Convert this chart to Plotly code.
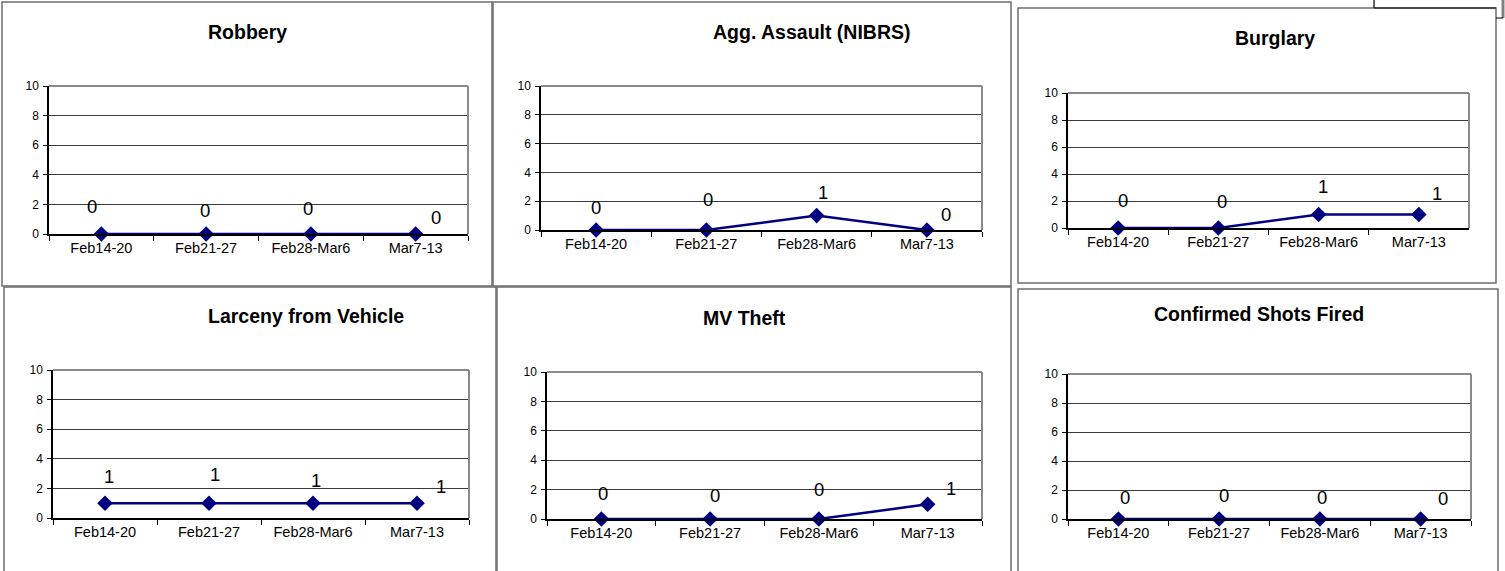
import plotly.graph_objects as go

# ---------------- data ----------------
CATEGORIES = ["Feb14-20", "Feb21-27", "Feb28-Mar6", "Mar7-13"]
TITLES = ["Robbery", "Agg. Assault (NIBRS)", "Burglary",
          "Larceny from Vehicle", "MV Theft", "Confirmed Shots Fired"]
ROBBERY = [0, 0, 0, 0]
AGG_ASSAULT = [0, 0, 1, 0]
BURGLARY = [0, 0, 1, 1]
LARCENY_FROM_VEHICLE = [1, 1, 1, 1]
MV_THEFT = [0, 0, 0, 1]
SHOTS_FIRED = [0, 0, 0, 0]
Y_TICKS = [0, 2, 4, 6, 8, 10]

SERIES = [ROBBERY, AGG_ASSAULT, BURGLARY, LARCENY_FROM_VEHICLE, MV_THEFT, SHOTS_FIRED]

# ---------------- layout (pixels) ----------------
W, H = 1505, 571
# plot area: x0, x1, ytop, ybottom
PLOT_AREAS = [
    (49, 468, 86, 234),
    (541, 982, 86, 230),
    (1068, 1469, 93, 228),
    (53, 469, 370, 518),
    (547, 982, 372, 519),
    (1068, 1471, 374, 519),
]
TITLE_POS = [(247, 32), (812, 32), (1275, 38), (306, 316), (744, 318), (1259, 314)]
BOXES = [
    (2, 2, 492, 286),
    (493, 2, 1011, 286),
    (1018, 8, 1496, 283),
    (4, 287, 496, 580),
    (497, 287, 1011, 580),
    (1018, 289, 1498, 580),
]
# label offsets (dx, dy) per point, per panel
LABEL_OFFSETS = [
    [(-9, 28), (-1, 24), (-3, 26), (20, 17)],
    [(0, 23), (2, 31), (6, 23), (19, 16)],
    [(5, 27), (4, 26), (4, 28), (18, 21)],
    [(4, 27), (6, 29), (3, 23), (24, 17)],
    [(2, 26), (5, 24), (0, 30), (23, 16)],
    [(7, 22), (5, 24), (2, 22), (22, 21)],
]

FONT = "Arial, Liberation Sans, sans-serif"
NAVY = "#000080"


def px(x):
    return x / W


def py(y):
    return 1 - y / H


def pline(x0, y0, x1, y1, color, width):
    return dict(type="line", xref="paper", yref="paper",
                x0=px(x0), x1=px(x1), y0=py(y0), y1=py(y1),
                line=dict(color=color, width=width), layer="above")


fig = go.Figure()
annotations = []
shapes = []

for i, (vals, title) in enumerate(zip(SERIES, TITLES)):
    n = i + 1
    xa = "x" if n == 1 else f"x{n}"
    ya = "y" if n == 1 else f"y{n}"
    x0, x1, yt, yb = PLOT_AREAS[i]

    fig.add_trace(go.Scatter(
        x=CATEGORIES, y=vals, mode="lines+markers",
        line=dict(color=NAVY, width=2.5),
        marker=dict(symbol="diamond", size=12, color=NAVY),
        cliponaxis=False, showlegend=False,
        xaxis=xa, yaxis=ya,
    ))

    fig.layout["xaxis" + ("" if n == 1 else str(n))] = dict(
        domain=[px(x0), px(x1)], anchor=ya,
        type="category", range=[-0.5, len(CATEGORIES) - 0.5],
        tickson="boundaries", ticks="outside", ticklen=5, tickcolor="black",
        showline=True, linecolor="black", linewidth=1.5,
        showgrid=False, zeroline=False,
        tickfont=dict(family=FONT, size=14.5, color="black"),
        fixedrange=True, automargin=False,
    )
    fig.layout["yaxis" + ("" if n == 1 else str(n))] = dict(
        domain=[py(yb), py(yt)], anchor=xa,
        range=[0, 10], tickvals=Y_TICKS,
        ticks="outside", ticklen=4, tickcolor="black",
        ticklabelstandoff=2,
        showline=True, linecolor="black", linewidth=1.5,
        showgrid=True, gridcolor="#3a3a3a", gridwidth=1,
        zeroline=False,
        tickfont=dict(family=FONT, size=12, color="black"),
        fixedrange=True, automargin=False,
    )

    # plot area frame: gray top and right edges
    shapes.append(pline(x0, yt, x1, yt, "#8a8a8a", 2))
    shapes.append(pline(x1, yt, x1, yb, "#8a8a8a", 2))

    # title
    tx, ty = TITLE_POS[i]
    annotations.append(dict(text="<b>" + title + "</b>", x=px(tx), y=py(ty),
                            xref="paper", yref="paper", showarrow=False,
                            xanchor="center", yanchor="middle",
                            font=dict(family=FONT, size=19.5, color="black")))

    # data labels
    for j, (c, v) in enumerate(zip(CATEGORIES, vals)):
        dx, dy = LABEL_OFFSETS[i][j]
        annotations.append(dict(text=str(v), x=j, y=v, xref=xa, yref=ya,
                                showarrow=False, xshift=dx, yshift=dy,
                                xanchor="center", yanchor="middle",
                                font=dict(family=FONT, size=18.5, color="black")))

    # chart box
    bx0, by0, bx1, by1 = BOXES[i]
    shapes.append(dict(type="rect", xref="paper", yref="paper",
                       x0=px(bx0), x1=px(bx1), y0=py(by1), y1=py(by0),
                       line=dict(color="#6e6e6e", width=1.5), layer="above"))

# extra page decorations at top right
shapes.append(pline(1374, 0, 1374, 8, "black", 1.2))
shapes.append(pline(1374, 8, 1496, 8, "black", 1.2))
shapes.append(pline(1503, 0, 1503, 18, "#808080", 3))
shapes.append(pline(1496, 18, 1503, 18, "black", 1))

fig.update_layout(
    width=W, height=H,
    margin=dict(l=0, r=0, t=0, b=0),
    paper_bgcolor="white", plot_bgcolor="white",
    annotations=annotations, shapes=shapes,
    showlegend=False,
)

fig.write_html(
    "out.html",
    config={"displayModeBar": False},
    post_script="document.body.style.margin='0';document.body.style.overflow='hidden';",
)
